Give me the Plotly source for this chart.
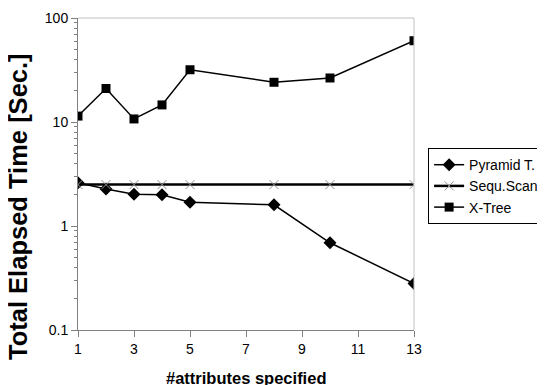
import plotly.graph_objects as go

attributes = [1, 2, 3, 4, 5, 8, 10, 13]
pyramid_t = [2.6, 2.27, 2.02, 2.0, 1.69, 1.6, 0.69, 0.28]
sequ_scan = [2.5, 2.5, 2.5, 2.5, 2.5, 2.5, 2.5, 2.5]
x_tree = [11.4, 21.0, 10.7, 14.6, 31.8, 24.1, 26.5, 60.5]

x_ticks = [1, 3, 5, 7, 9, 11, 13]
y_ticks = [0.1, 1, 10, 100]
y_tick_labels = ["0.1", "1", "10", "100"]

FONT = "Liberation Sans, Arial, sans-serif"

fig = go.Figure()
fig.add_trace(go.Scatter(
    x=attributes, y=pyramid_t, name="Pyramid T.", mode="lines+markers",
    line=dict(color="black", width=1.5),
    marker=dict(symbol="diamond", size=10, color="black"),
))
fig.add_trace(go.Scatter(
    x=attributes, y=sequ_scan, name="Sequ.Scan", mode="lines+markers",
    line=dict(color="black", width=2.5),
    marker=dict(symbol="x-thin", size=9, color="#909090", line=dict(color="#909090", width=1)),
))
fig.add_trace(go.Scatter(
    x=attributes, y=x_tree, name="X-Tree", mode="lines+markers",
    line=dict(color="black", width=1.5),
    marker=dict(symbol="square", size=9, color="black"),
))

# The page body has an 8px margin, so the figure is sized 8px smaller
fig.update_layout(
    width=537, height=377,
    margin=dict(l=70, r=131, t=10, b=55, autoexpand=False),
    paper_bgcolor="white", plot_bgcolor="white",
    font=dict(family=FONT, size=14, color="black"),
    showlegend=True,
    legend=dict(
        x=1.042, y=0.583, xanchor="left", yanchor="top",
        bordercolor="black", borderwidth=1,
        font=dict(family=FONT, size=14, color="black"),
        tracegroupgap=0, itemwidth=30,
    ),
    xaxis=dict(
        range=[1, 13], tickvals=x_ticks, ticks="outside", ticklen=6,
        tickcolor="#808080", showline=True, linecolor="#808080", linewidth=1,
        showgrid=False, zeroline=False,
        tickfont=dict(family=FONT, size=14),
    ),
    yaxis=dict(
        type="log", range=[-1, 2], tickvals=y_ticks, ticktext=y_tick_labels,
        ticks="outside", ticklen=6, tickcolor="#808080",
        showline=True, linecolor="#808080", linewidth=1,
        showgrid=False, zeroline=False,
        tickfont=dict(family=FONT, size=14),
        minor=dict(ticks="outside", ticklen=3, tickcolor="#808080", dtick="D1", showgrid=False),
    ),
    annotations=[
        dict(text="<b>Total Elapsed Time [Sec.]</b>", xref="paper", yref="paper",
             x=-0.179, y=0.397, textangle=-90, showarrow=False,
             xanchor="center", yanchor="middle",
             font=dict(family=FONT, size=25.5, color="black")),
        dict(text="<b>#attributes specified</b>", xref="paper", yref="paper",
             x=0.5, y=-0.154, showarrow=False, xanchor="center", yanchor="middle",
             font=dict(family=FONT, size=16.5, color="black")),
    ],
    shapes=[
        dict(type="line", xref="paper", yref="paper", x0=0, x1=1, y0=1, y1=1,
             line=dict(color="#c0c0c0", width=1)),
        dict(type="line", xref="paper", yref="paper", x0=1, x1=1, y0=0, y1=1,
             line=dict(color="#c0c0c0", width=1)),
    ],
)

fig.write_html("out.html")
